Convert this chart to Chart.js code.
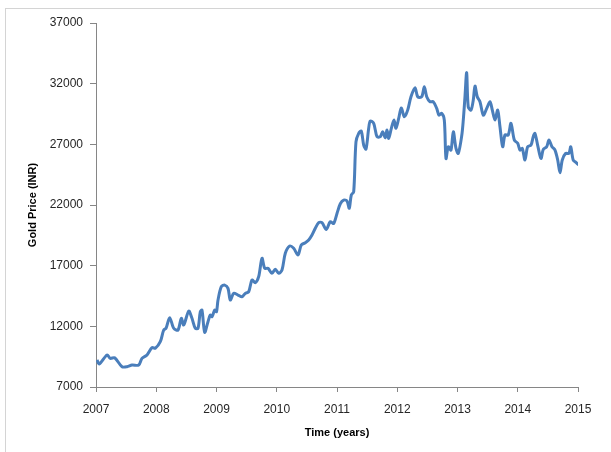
<!DOCTYPE html>
<html>
<head>
<meta charset="utf-8">
<script src="https://cdn.jsdelivr.net/npm/chart.js@4/dist/chart.umd.min.js"></script>
<style>
  html, body { margin: 0; padding: 0; background: #fff; overflow: hidden; }
  #frame { position: absolute; left: 5px; top: 8px; width: 700px; height: 600px; border: 1px solid #d4d4d4; }
  #wrap { position: absolute; left: 0; top: 0; width: 611px; height: 452px; }
</style>
</head>
<body>
<div id="frame"></div>
<div id="wrap"><canvas id="c" width="611" height="452"></canvas></div>
<script>
// Time in decimal years
const years = [
  2007.017, 2007.055, 2007.183, 2007.237, 2007.310, 2007.432, 2007.515, 2007.598, 2007.709, 2007.763,
  2007.846, 2007.929, 2007.984, 2008.067, 2008.124, 2008.162, 2008.223, 2008.290, 2008.361, 2008.416,
  2008.456, 2008.539, 2008.593, 2008.648, 2008.693, 2008.731, 2008.759, 2008.804, 2008.859, 2008.897,
  2008.925, 2008.970, 2009.000, 2009.025, 2009.080, 2009.136, 2009.191, 2009.229, 2009.286, 2009.357,
  2009.423, 2009.478, 2009.534, 2009.589, 2009.644, 2009.700, 2009.755, 2009.800, 2009.855, 2009.921,
  2009.976, 2010.032, 2010.087, 2010.142, 2010.215, 2010.281, 2010.353, 2010.407, 2010.474, 2010.530,
  2010.585, 2010.640, 2010.696, 2010.751, 2010.822, 2010.888, 2010.944, 2011.000, 2011.055, 2011.111,
  2011.166, 2011.204, 2011.237, 2011.277, 2011.315, 2011.360, 2011.403, 2011.443, 2011.481, 2011.526,
  2011.552, 2011.609, 2011.664, 2011.719, 2011.758, 2011.802, 2011.830, 2011.858, 2011.902, 2011.946,
  2011.979, 2012.024, 2012.067, 2012.117, 2012.173, 2012.228, 2012.295, 2012.340, 2012.406, 2012.449,
  2012.489, 2012.544, 2012.598, 2012.655, 2012.693, 2012.738, 2012.781, 2012.809, 2012.847, 2012.892,
  2012.930, 2012.975, 2013.013, 2013.070, 2013.096, 2013.124, 2013.152, 2013.178, 2013.224, 2013.262,
  2013.290, 2013.328, 2013.373, 2013.428, 2013.485, 2013.539, 2013.578, 2013.622, 2013.667, 2013.705,
  2013.750, 2013.788, 2013.842, 2013.888, 2013.943, 2013.999, 2014.037, 2014.075, 2014.120, 2014.164,
  2014.220, 2014.257, 2014.285, 2014.330, 2014.385, 2014.424, 2014.480, 2014.518, 2014.568, 2014.618,
  2014.663, 2014.701, 2014.739, 2014.795, 2014.850, 2014.880, 2014.920, 2014.970, 2015.012
];
// Gold price (INR)
const prices = [
  9230, 8900, 9640, 9360, 9410, 8670, 8670, 8810, 8810, 9360,
  9640, 10240, 10190, 10730, 11700, 11840, 12710, 11840, 11700, 12660,
  12110, 13260, 12660, 11840, 11840, 13200, 13340, 11510, 12380, 12930,
  12790, 13340, 13200, 14170, 15270, 15400, 15130, 14170, 14720, 14580,
  14440, 14720, 14850, 15820, 15600, 16090, 17610, 16780, 16780, 16370,
  16700, 16370, 16640, 18020, 18620, 18430, 17880, 18700, 18890, 19110,
  19520, 20080, 20540, 20540, 19990, 20620, 20480, 21300, 22100, 22410,
  22330, 21730, 22820, 23090, 27210, 27900, 28090, 26940, 26610, 28320,
  28920, 28730, 27630, 27630, 28040, 27540, 28180, 27490, 28320, 29000,
  28320, 29140, 30000, 29270, 29820, 30920, 31660, 30920, 30920, 31740,
  30920, 30510, 30510, 29960, 29410, 29550, 29000, 25840, 26800, 26530,
  28040, 26660, 26250, 27700, 29000, 30920, 32900, 30100, 29820, 30650,
  31800, 30920, 30510, 29410, 29960, 30510, 29820, 29000, 29820, 28450,
  26800, 27770, 27770, 28730, 27350, 27080, 26530, 26660, 25710, 26800,
  26940, 27630, 27900, 26940, 25840, 26580, 26800, 27350, 26800, 26530,
  25710, 24660, 25710, 26250, 26250, 26800, 25710, 25490, 25300
];
const xTicks = [2007, 2008, 2009, 2010, 2011, 2012, 2013, 2014, 2015];
const yTicks = [7000, 12000, 17000, 22000, 27000, 32000, 37000];

const points = years.map((x, i) => ({ x: x, y: prices[i] }));
const axisColor = '#868686';
const textColor = '#262626';
const fontFamily = '"Liberation Sans", Arial, sans-serif';

new Chart(document.getElementById('c'), {
  type: 'line',
  data: {
    datasets: [{
      label: 'Gold Price (INR)',
      data: points,
      borderColor: '#4A7EBB',
      borderWidth: 3,
      pointRadius: 0,
      tension: 0.3,
      fill: false
    }]
  },
  options: {
    responsive: false,
    animation: false,
    devicePixelRatio: 1,
    layout: { padding: { left: 0, top: 23, right: 33, bottom: 0 } },
    plugins: { legend: { display: false }, tooltip: { enabled: false } },
    scales: {
      x: {
        type: 'linear',
        min: xTicks[0],
        max: xTicks[xTicks.length - 1],
        afterBuildTicks: s => { s.ticks = xTicks.map(v => ({ value: v })); },
        afterFit: s => { s.height = 65; },
        grid: { drawOnChartArea: false, drawTicks: true, tickLength: 5, tickColor: axisColor },
        border: { display: true, color: axisColor, width: 1 },
        ticks: {
          color: textColor, padding: 10, maxRotation: 0, autoSkip: false,
          font: { family: fontFamily, size: 12 },
          callback: v => String(v)
        },
        title: {
          display: true, text: 'Time (years)', color: '#000',
          font: { family: fontFamily, size: 11, weight: 'bold' },
          padding: { top: 0, bottom: 12 }
        }
      },
      y: {
        type: 'linear',
        min: yTicks[0],
        max: yTicks[yTicks.length - 1],
        afterBuildTicks: s => { s.ticks = yTicks.map(v => ({ value: v })); },
        afterFit: s => { s.width = 96; },
        grid: { drawOnChartArea: false, drawTicks: true, tickLength: 6, tickColor: axisColor },
        border: { display: true, color: axisColor, width: 1 },
        ticks: {
          color: textColor, padding: 7, autoSkip: false,
          font: { family: fontFamily, size: 12 },
          callback: v => String(v)
        },
        title: {
          display: true, text: 'Gold Price (INR)', color: '#000',
          font: { family: fontFamily, size: 11, weight: 'bold' },
          padding: { top: 26, bottom: 0 }
        }
      }
    }
  }
});
</script>
</body>
</html>
